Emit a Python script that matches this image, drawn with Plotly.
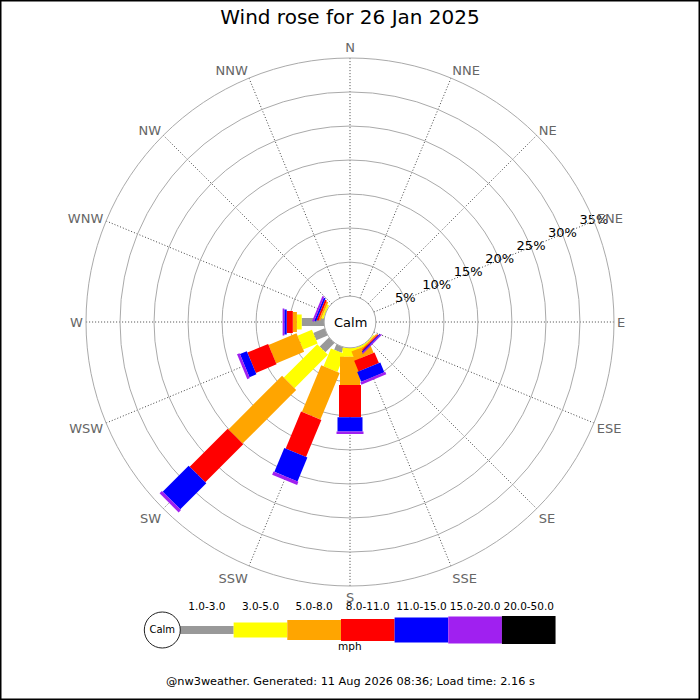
import plotly.graph_objects as go

# ---------------- data ----------------
DIRS = ["N", "NNE", "NE", "ENE", "E", "ESE", "SE", "SSE",
        "S", "SSW", "SW", "WSW", "W", "WNW", "NW", "NNW"]

CLASSES = ["1.0-3.0", "3.0-5.0", "5.0-8.0", "8.0-11.0",
           "11.0-15.0", "15.0-20.0", "20.0-50.0"]
COLORS = ["#999999", "#ffff00", "#ffa500", "#ff0000",
          "#0000ff", "#a020f0", "#000000"]

# percentage of time per direction for each speed class (mph)
#            N  NNE NE ENE E ESE  SE    SSE   S     SSW   SW    WSW   W     WNW   NW NNW
SPD_1_3   = [0, 0, 0, 0, 0, 0, 0.00, 0.00, 0.00, 0.85, 1.90, 1.80, 3.30, 0.00, 0, 0]
SPD_3_5   = [0, 0, 0, 0, 0, 0, 0.17, 0.30, 1.30, 2.85, 6.95, 2.30, 0.70, 0.28, 0, 0]
SPD_5_8   = [0, 0, 0, 0, 0, 0, 0.17, 1.40, 4.15, 7.40, 11.15, 4.45, 0.60, 0.28, 0, 0]
SPD_8_11  = [0, 0, 0, 0, 0, 0, 0.17, 1.70, 4.75, 5.90, 7.90, 3.30, 0.90, 0.28, 0, 0]
SPD_11_15 = [0, 0, 0, 0, 0, 0, 0.17, 1.55, 2.10, 3.80, 5.40, 1.10, 0.35, 0.28, 0, 0]
SPD_15_20 = [0, 0, 0, 0, 0, 0, 0.17, 0.40, 0.35, 0.50, 0.50, 0.40, 0.25, 0.28, 0, 0]
SPD_20_50 = [0, 0, 0, 0, 0, 0, 0.00, 0.00, 0.00, 0.00, 0.00, 0.00, 0.00, 0.00, 0, 0]
SERIES = [SPD_1_3, SPD_3_5, SPD_5_8, SPD_8_11, SPD_11_15, SPD_15_20, SPD_20_50]

RADIAL_TICKS = [5, 10, 15, 20, 25, 30, 35]

TITLE = "Wind rose for 26 Jan 2025"
FOOTER = "@nw3weather. Generated: 11 Aug 2026 08:36; Load time: 2.16 s"

# ---------------- styles ----------------
BAR_WIDTHS = [8, 15, 20, 22, 25, 27, 28]
FONT = "DejaVu Sans"

fig = go.Figure()

# stacked rose bars (constant-width radial strokes)
cum = [0.0] * len(DIRS)
for k, vals in enumerate(SERIES):
    r, th = [], []
    for d, v in enumerate(vals):
        if v > 0:
            r += [cum[d], cum[d] + v, None]
            th += [DIRS[d], DIRS[d], None]
        cum[d] += v
    if r:
        fig.add_trace(go.Scatterpolar(
            r=r, theta=th, mode="lines", connectgaps=False,
            line=dict(color=COLORS[k], width=BAR_WIDTHS[k]),
            hoverinfo="skip", showlegend=False))

# radial percentage labels along ENE
fig.add_trace(go.Scatterpolar(
    r=RADIAL_TICKS, theta=["ENE"] * len(RADIAL_TICKS),
    text=[f"{v}%" for v in RADIAL_TICKS], mode="text",
    textfont=dict(family=FONT, size=13, color="black"),
    cliponaxis=False, hoverinfo="skip", showlegend=False))

# ---------------- legend (cartesian strip) ----------------
for k, name in enumerate(CLASSES):
    fig.add_trace(go.Scatter(
        x=[k, k + 1], y=[0, 0], mode="lines",
        line=dict(color=COLORS[k], width=BAR_WIDTHS[k]),
        xaxis="x", yaxis="y", cliponaxis=False,
        hoverinfo="skip", showlegend=False))
fig.add_trace(go.Scatter(
    x=[k + 0.5 for k in range(len(CLASSES))], y=[0.77] * len(CLASSES),
    text=CLASSES, mode="text",
    textfont=dict(family=FONT, size=10.5, color="black"),
    xaxis="x", yaxis="y", cliponaxis=False,
    hoverinfo="skip", showlegend=False))
fig.add_trace(go.Scatter(
    x=[-0.33], y=[0], mode="markers+text", text=["Calm"],
    textposition="middle center",
    textfont=dict(family=FONT, size=10, color="black"),
    marker=dict(size=36, color="white", line=dict(color="#222222", width=1)),
    xaxis="x", yaxis="y", cliponaxis=False,
    hoverinfo="skip", showlegend=False))

fig.update_layout(
    width=700, height=700,
    margin=dict(l=0, r=0, t=0, b=0),
    paper_bgcolor="white", plot_bgcolor="white",
    font=dict(family=FONT),
    showlegend=False,
    title=dict(text=TITLE, x=0.5, xanchor="center", y=1 - 17 / 700,
               yanchor="middle", font=dict(family=FONT, size=20, color="black")),
    polar=dict(
        domain=dict(x=[86 / 700, 614 / 700], y=[114 / 700, 642 / 700]),
        hole=0.098,
        bgcolor="white",
        radialaxis=dict(range=[0, 35], tickvals=RADIAL_TICKS,
                        showticklabels=False, ticks="", showline=False,
                        gridcolor="#aaaaaa", gridwidth=1),
        angularaxis=dict(type="category", categoryarray=DIRS,
                         rotation=90, direction="clockwise",
                         showline=True, linecolor="#aaaaaa", linewidth=1,
                         gridcolor="#444444", griddash="1px,2px", ticks="",
                         tickfont=dict(family=FONT, size=13, color="#666666")),
    ),
    xaxis=dict(domain=[140 / 700, 570 / 700], range=[-0.7456, 7.2693],
               visible=False, fixedrange=True),
    yaxis=dict(domain=[40 / 700, 100 / 700], range=[-1, 1],
               visible=False, fixedrange=True),
    annotations=[
        dict(text="Calm", x=0.5, y=378 / 700, xref="paper", yref="paper",
             showarrow=False, font=dict(family=FONT, size=13, color="black")),
        dict(text="mph", x=0.5, y=(700 - 653.5) / 700, xref="paper", yref="paper",
             showarrow=False, font=dict(family=FONT, size=10.5, color="black")),
        dict(text=FOOTER, x=0.5, y=(700 - 690) / 700, xref="paper", yref="paper",
             showarrow=False, font=dict(family=FONT, size=11.3, color="black")),
    ],
    shapes=[dict(type="rect", xref="paper", yref="paper", x0=0, y0=0, x1=1, y1=1,
                 line=dict(color="black", width=3), fillcolor="rgba(0,0,0,0)")],
)

fig.write_html(
    "out.html",
    config={"displayModeBar": False, "staticPlot": True},
    post_script="document.body.style.margin='0';document.body.style.overflow='hidden';",
)
